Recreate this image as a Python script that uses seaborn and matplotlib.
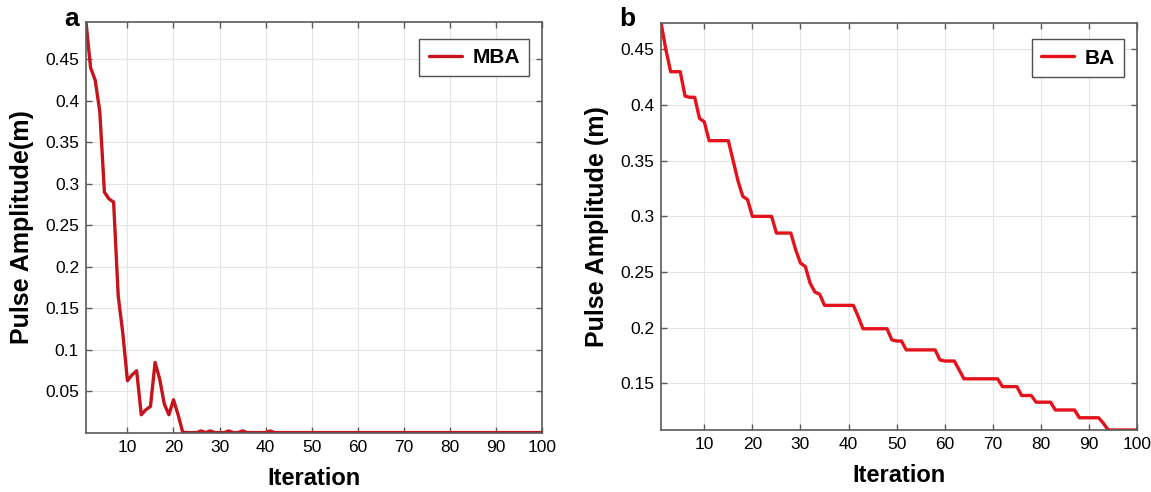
import numpy as np
import pandas as pd
import matplotlib
matplotlib.use("Agg")
import matplotlib.pyplot as plt
import seaborn as sns

# ---------------- data ----------------
iterations = list(range(1, 101))

mba_values = [0.495, 0.440, 0.425, 0.387, 0.290, 0.282, 0.278, 0.165, 0.120, 0.063,
              0.070, 0.075, 0.022, 0.028, 0.032, 0.085, 0.065, 0.035, 0.022, 0.040,
              0.022, 0.001, 0.0005, 0.0005, 0.0005, 0.0025, 0.0005, 0.0025, 0.0005, 0.0005,
              0.0005, 0.0025, 0.0005, 0.0005, 0.0025, 0.0005, 0.0005, 0.0005, 0.0005, 0.0005,
              0.0025] + [0.0005] * 59

ba_values = [0.474, 0.450, 0.430, 0.430, 0.430, 0.408, 0.407, 0.407, 0.388, 0.385,
             0.368, 0.368, 0.368, 0.368, 0.368, 0.350, 0.332, 0.318, 0.315, 0.300,
             0.300, 0.300, 0.300, 0.300, 0.285, 0.285, 0.285, 0.285, 0.270, 0.258,
             0.255, 0.240, 0.232, 0.230, 0.220, 0.220, 0.220, 0.220, 0.220, 0.220,
             0.220, 0.210, 0.199, 0.199, 0.199, 0.199, 0.199, 0.199, 0.189, 0.188,
             0.188, 0.180, 0.180, 0.180, 0.180, 0.180, 0.180, 0.180, 0.171, 0.170,
             0.170, 0.170, 0.162, 0.154, 0.154, 0.154, 0.154, 0.154, 0.154, 0.154,
             0.154, 0.147, 0.147, 0.147, 0.147, 0.139, 0.139, 0.139, 0.133, 0.133,
             0.133, 0.133, 0.126, 0.126, 0.126, 0.126, 0.126, 0.119, 0.119, 0.119,
             0.119, 0.119, 0.114, 0.108, 0.108, 0.108, 0.108, 0.108, 0.108, 0.108]

x_ticks = [10, 20, 30, 40, 50, 60, 70, 80, 90, 100]
mba_yticks = [0.05, 0.1, 0.15, 0.2, 0.25, 0.3, 0.35, 0.4, 0.45]
ba_yticks = [0.15, 0.2, 0.25, 0.3, 0.35, 0.4, 0.45]

# ---------------- style ----------------
sns.set_style("whitegrid")
plt.rcParams['font.family'] = ['Liberation Sans', 'DejaVu Sans']
plt.rcParams['text.color'] = 'black'
plt.rcParams['axes.labelcolor'] = 'black'
plt.rcParams['xtick.labelcolor'] = 'black'
plt.rcParams['ytick.labelcolor'] = 'black'

fig = plt.figure(figsize=(11.51, 4.92), dpi=100)
ax1 = fig.add_axes([0.0747, 0.1199, 0.3962, 0.8354])
ax2 = fig.add_axes([0.5743, 0.1260, 0.4136, 0.8278])

df1 = pd.DataFrame({"Iteration": iterations, "value": mba_values})
df2 = pd.DataFrame({"Iteration": iterations, "value": ba_values})

sns.lineplot(data=df1, x="Iteration", y="value", ax=ax1, color="#c4141c",
             linewidth=2.4, label="MBA")
sns.lineplot(data=df2, x="Iteration", y="value", ax=ax2, color="#e3121b",
             linewidth=2.4, label="BA")

def fmt(v):
    return f"{v:.2f}".rstrip("0").rstrip(".")

spine_c = "#5a5a5a"
for ax, yt, ylim, ylab in [
    (ax1, mba_yticks, (0, max(mba_values)), "Pulse Amplitude(m)"),
    (ax2, ba_yticks, (min(ba_values), max(ba_values)), "Pulse Amplitude (m)"),
]:
    ax.set_xlim(1, 100)
    ax.set_ylim(*ylim)
    ax.set_xticks(x_ticks)
    ax.set_xticklabels([str(t) for t in x_ticks])
    ax.set_yticks(yt)
    ax.set_yticklabels([fmt(t) for t in yt])
    ax.grid(True, color="#e4e4e4", linewidth=0.8)
    for s in ax.spines.values():
        s.set_visible(True)
        s.set_color(spine_c)
        s.set_linewidth(1.2)
    ax.tick_params(direction="in", length=4, width=1, color=spine_c,
                   top=True, right=True, bottom=True, left=True,
                   labelsize=12.5, labelcolor="black", pad=5)
    ax.set_xlabel("Iteration", fontsize=17, fontweight="bold", labelpad=9,
                  color="black")
    ax.set_ylabel(ylab, fontsize=18, fontweight="bold", labelpad=8, color="black")
    leg = ax.legend(loc="upper right", bbox_to_anchor=(0.995, 0.985),
                    frameon=True, fancybox=False,
                    handlelength=1.6, handletextpad=0.5, borderaxespad=0.5,
                    borderpad=0.45,
                    prop={"weight": "bold", "size": 15})
    for t in leg.get_texts():
        t.set_color("black")
    leg.get_frame().set_edgecolor("#505050")
    leg.get_frame().set_linewidth(1.0)
    leg.get_frame().set_alpha(1)

fig.text(0.056, 0.985, "a", fontsize=19, fontweight="bold", va="top", ha="left")
fig.text(0.538, 0.985, "b", fontsize=19, fontweight="bold", va="top", ha="left")

fig.savefig("out.png", dpi=100)
